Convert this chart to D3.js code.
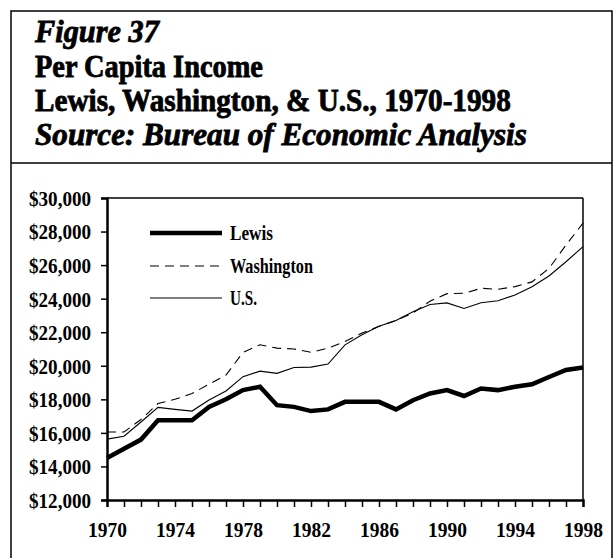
<!DOCTYPE html>
<html><head><meta charset="utf-8">
<script src="https://cdn.jsdelivr.net/npm/d3@7"></script>
<style>body{margin:0;background:#fff}svg{display:block}</style>
</head><body>
<svg id="c" width="614" height="558"></svg>
<script>
const years = d3.range(1970, 1999);
const lewis = [14500,15050,15600,16750,16750,16750,17550,18000,18550,18750,17650,17550,17300,17400,17850,17850,17850,17400,17950,18350,18550,18200,18650,18550,18750,18900,19330,19750,19900];
const washington = [16050,16050,16800,17750,18000,18350,18900,19450,20800,21250,21050,21000,20800,21050,21450,21950,22350,22700,23150,23850,24300,24320,24620,24560,24720,25000,25800,27200,28500];
const us = [15630,15800,16650,17520,17400,17300,17960,18500,19350,19680,19550,19900,19920,20100,21250,21850,22350,22700,23220,23650,23750,23420,23760,23880,24220,24710,25350,26200,27100];
const yTicks = [12000,14000,16000,18000,20000,22000,24000,26000,28000,30000];
const xTickLabels = [1970,1974,1978,1982,1986,1990,1994,1998];
const titleLines = ["Figure 37","Per Capita Income","Lewis, Washington, & U.S., 1970-1998","Source: Bureau of Economic Analysis"];
const seriesNames = ["Lewis","Washington","U.S."];

const svg = d3.select("#c");
const serif = "'Liberation Serif','DejaVu Serif',serif";

// frame
svg.append("rect").attr("x",11).attr("y",11).attr("width",601).attr("height",560)
  .attr("fill","none").attr("stroke","#000").attr("stroke-width",1.5);
svg.append("line").attr("x1",11).attr("x2",612).attr("y1",163).attr("y2",163)
  .attr("stroke","#000").attr("stroke-width",1.5);

// title
const tSpec = [
  {y:42, italic:true, w:124},
  {y:77, italic:false, w:228},
  {y:111, italic:false, w:476},
  {y:145, italic:true, w:492}
];
titleLines.forEach((t,i)=>{
  const s = tSpec[i];
  const el = svg.append("text").attr("x",0).attr("y",0)
    .attr("font-family",serif).attr("font-weight","bold")
    .attr("font-style", s.italic?"italic":"normal")
    .attr("font-size",31).attr("fill","#000").attr("stroke","#000").attr("stroke-width",0.8).text(t);
  const L = el.node().getComputedTextLength();
  el.attr("transform",`translate(35,${s.y}) scale(${s.w/L},1)`);
});

const m = {l:107, r:583, t:198, b:500};
const x = d3.scaleLinear().domain([1970,1998]).range([m.l,m.r]);
const y = d3.scaleLinear().domain([12000,30000]).range([m.b,m.t]);

// plot border top/right
svg.append("line").attr("x1",m.l).attr("x2",m.r).attr("y1",m.t).attr("y2",m.t).attr("stroke","#000").attr("stroke-width",1.5);
svg.append("line").attr("x1",m.r).attr("x2",m.r).attr("y1",m.t).attr("y2",m.b).attr("stroke","#000").attr("stroke-width",1.5);

// axes
const yAx = svg.append("g").attr("transform",`translate(${m.l},0)`)
  .call(d3.axisLeft(y).tickValues(yTicks).tickSize(6).tickPadding(10).tickFormat(d=>"$"+d3.format(",")(d)));
const xAx = svg.append("g").attr("transform",`translate(0,${m.b})`)
  .call(d3.axisBottom(x).tickValues(years).tickSize(7).tickPadding(15).tickFormat(d=>xTickLabels.includes(d)?String(d):""));
[yAx,xAx].forEach(g=>{
  g.select(".domain").attr("stroke-width",2.5);
  g.selectAll(".tick line").attr("stroke-width",1.5);
  g.selectAll("text").attr("font-family",serif).attr("font-size",21).attr("font-weight","bold").attr("fill","#000");
});
yAx.selectAll(".tick text").each(function(){
  const el=d3.select(this); const L=this.getComputedTextLength();
  const k=62/L; const xx=+el.attr("x");
  el.attr("transform",`translate(${xx},0) scale(${k},1) translate(${-xx},0)`).attr("dy","0.35em");
});
xAx.selectAll(".tick text").each(function(){
  const L=this.getComputedTextLength(); if(!L) return;
  d3.select(this).attr("transform",`scale(${39/L},1)`);
});
xAx.selectAll(".tick").filter(d=>d===1970||d===1998).select("line").attr("stroke-width",0);

// lines
const line = d3.line().x((d,i)=>x(years[i])).y(d=>y(d));
const styles = [
  {data:lewis, w:4.5, dash:null},
  {data:washington, w:1.1, dash:"9,6"},
  {data:us, w:1.1, dash:null}
];
styles.forEach(s=>{
  svg.append("path").datum(s.data).attr("d",line).attr("fill","none")
    .attr("stroke","#000").attr("stroke-width",s.w).attr("stroke-linejoin","miter")
    .attr("stroke-dasharray",s.dash);
});

// legend
const legY = [233,266,298];
const legW = [43,83,27];
seriesNames.forEach((n,i)=>{
  const s = styles[i];
  svg.append("line").attr("x1",150).attr("x2",222).attr("y1",legY[i]).attr("y2",legY[i])
    .attr("stroke","#000").attr("stroke-width",s.w).attr("stroke-dasharray",s.dash);
  const el = svg.append("text").attr("font-family",serif).attr("font-size",20).attr("font-weight","bold")
    .attr("fill","#000").text(n);
  const L = el.node().getComputedTextLength();
  el.attr("transform",`translate(230,${legY[i]+7}) scale(${legW[i]/L},1)`);
});
</script>
</body></html>
